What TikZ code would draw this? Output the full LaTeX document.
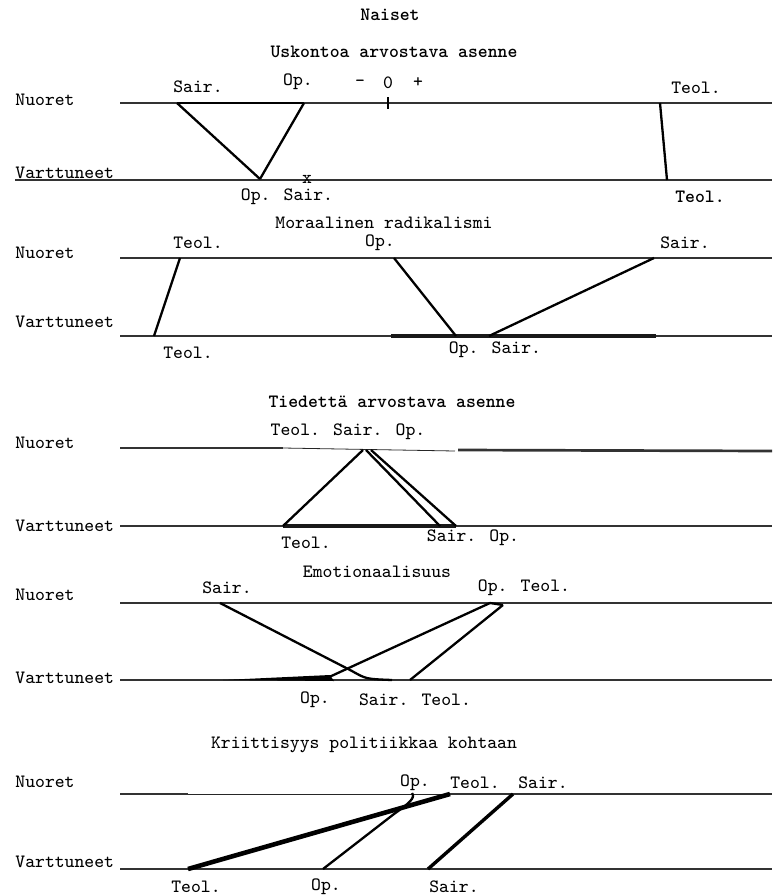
\documentclass[tikz,border=0pt]{standalone}
\begin{document}
\begin{tikzpicture}[x=0.5pt,y=-0.5pt,
  txt/.style={font=\ttfamily\fontsize{9.4}{11}\selectfont, inner sep=0pt},
  bt/.style={font=\ttfamily\bfseries\fontsize{9.4}{11}\selectfont, inner sep=0pt},
  axis/.style={line width=1.35pt, black!80},
  thinax/.style={line width=0.4pt, black!85},
  heavy/.style={line width=1.9pt, black!90},
  link/.style={line width=1.15pt, black},
  thicklink/.style={line width=2.3pt, black}]
\useasboundingbox (0,0) rectangle (772,895);

% ---------------- Panel 1 ----------------
\node[bt] (naiset) at (390,15) {Naiset};
\node[bt] (t1) at (394,52) {Uskontoa arvostava asenne};
\node[txt, anchor=west] (n1) at (15,100) {Nuoret};
\node[txt, anchor=west] (v1) at (15,173) {Varttuneet};
\coordinate (n1a) at (120,103); \coordinate (n1b) at (772,103);
\coordinate (v1a) at (15,180);  \coordinate (v1b) at (772,180);
\draw[axis] (n1a) -- (n1b);
\draw[axis] (v1a) -- (v1b);
\coordinate (tk1a) at (388,97); \coordinate (tk1b) at (388,109);
\draw[link] (tk1a) -- (tk1b);
\node[txt] (l1s) at (198,87) {Sair.};
\node[txt] (l1o) at (298,82) {Op.};
\node[txt] (l1m) at (360,83) {-};
\node[txt] (l1z) at (388,83) {0};
\node[txt] (l1p) at (418,83) {+};
\node[txt] (l1t) at (696,88) {Teol.};
\node[txt] (l1x) at (307,179) {x};
\node[txt] (l1b) at (287,197) {Op. Sair.};
\node[bt]  (l1bt) at (700,197) {Teol.};
\coordinate (s1t) at (177,103); \coordinate (o1t) at (304,103);
\coordinate (b1)  at (260,179);
\coordinate (t1t) at (660,103); \coordinate (t1b) at (667,180);
\draw[link] (s1t) -- (o1t);
\draw[link] (s1t) -- (b1);
\draw[link] (o1t) -- (b1);
\draw[link] (t1t) -- (t1b);

% ---------------- Panel 2 ----------------
\node[txt] (t2) at (384,223) {Moraalinen radikalismi};
\node[txt, anchor=west] (n2) at (15,253) {Nuoret};
\node[txt, anchor=west] (v2) at (15,322) {Varttuneet};
\coordinate (n2a) at (120,258); \coordinate (n2b) at (772,258);
\coordinate (v2a) at (120,336); \coordinate (v2b) at (772,336);
\coordinate (v2c) at (391,336); \coordinate (v2d) at (656,336);
\draw[axis] (n2a) -- (n2b);
\draw[axis] (v2a) -- (v2b);
\draw[heavy] (v2c) -- (v2d);
\node[txt] (l2t) at (198,243) {Teol.};
\node[txt] (l2o) at (380,243) {Op.};
\node[txt] (l2s) at (685,243) {Sair.};
\node[txt] (l2bt) at (188,353) {Teol.};
\node[txt] (l2bo) at (495,350) {Op. Sair.};
\coordinate (t2t) at (180,258); \coordinate (t2b) at (154,336);
\coordinate (o2t) at (394,258); \coordinate (o2b) at (456,336);
\coordinate (s2t) at (654,258); \coordinate (s2b) at (489,336);
\draw[link] (t2t) -- (t2b);
\draw[link] (o2t) -- (o2b);
\draw[link] (s2t) -- (s2b);

% ---------------- Panel 3 ----------------
\node[bt] (t3) at (392,402) {Tiedettä arvostava asenne};
\node[txt] (l3) at (348,432) {Teol. Sair. Op.};
\node[txt, anchor=west] (n3) at (15,443) {Nuoret};
\node[txt, anchor=west] (v3) at (15,526) {Varttuneet};
\coordinate (n3a) at (120,448); \coordinate (n3b) at (283,448);
\coordinate (n3c) at (455,451); \coordinate (n3d) at (458,450);
\coordinate (n3e) at (772,451);
\draw[axis] (n3a) -- (n3b);
\draw[thinax] (n3b) -- (n3c);
\draw[axis] (n3d) -- (n3e);
\coordinate (v3a) at (120,526); \coordinate (v3b) at (772,526);
\coordinate (v3c) at (283,526); \coordinate (v3d) at (456,526);
\draw[axis] (v3a) -- (v3b);
\draw[heavy] (v3c) -- (v3d);
\coordinate (a3t) at (363,450); \coordinate (a3s) at (366,450); \coordinate (a3o) at (371,450);
\coordinate (t3b) at (283,526); \coordinate (s3b) at (440,526); \coordinate (o3b) at (456,526);
\draw[link] (a3t) -- (t3b);
\draw[link] (a3s) -- (s3b);
\draw[link] (a3o) -- (o3b);
\node[txt] (l3bt) at (306,543) {Teol.};
\node[txt] (l3bs) at (473,538) {Sair. Op.};

% ---------------- Panel 4 ----------------
\node[txt] (t4) at (377,572) {Emotionaalisuus};
\node[txt] (l4s) at (227,588) {Sair.};
\node[txt] (l4o) at (524,588) {Op. Teol.};
\node[txt, anchor=west] (n4) at (15,595) {Nuoret};
\node[txt, anchor=west] (v4) at (15,678) {Varttuneet};
\coordinate (n4a) at (120,603); \coordinate (n4b) at (772,603);
\coordinate (v4a) at (120,680); \coordinate (v4b) at (772,680);
\draw[axis] (n4a) -- (n4b);
\draw[axis] (v4a) -- (v4b);
\coordinate (s4t) at (220,603); \coordinate (s4m) at (352,671);
\coordinate (s4c) at (366,679); \coordinate (s4b) at (392,680);
\coordinate (o4t) at (490,603); \coordinate (o4b) at (327,678);
\coordinate (t4t) at (503,605); \coordinate (t4b) at (410,680);
\coordinate (w4a) at (223,680); \coordinate (w4b) at (330,675); \coordinate (w4c) at (334,681);
\draw[link] (s4t) -- (s4m) .. controls (s4c) .. (s4b);
\draw[link] (o4t) -- (o4b);
\draw[link] (o4t) -- (t4t);
\draw[link] (t4t) -- (t4b);
\fill[black] (w4a) -- (w4b) -- (w4c) -- cycle;
\node[txt] (l4bo) at (315,700) {Op.};
\node[txt] (l4bs) at (415,700) {Sair. Teol.};

% ---------------- Panel 5 ----------------
\node[txt] (t5) at (364,745) {Kriittisyys politiikkaa kohtaan};
\node[txt] (l5o) at (415,783) {Op.};
\node[txt] (l5t) at (475,783) {Teol.};
\node[txt] (l5s) at (543,783) {Sair.};
\node[txt, anchor=west] (n5) at (15,782) {Nuoret};
\node[txt, anchor=west] (v5) at (15,862) {Varttuneet};
\coordinate (n5a) at (120,794); \coordinate (n5b) at (188,794);
\coordinate (n5c) at (450,794); \coordinate (n5d) at (772,794);
\draw[axis] (n5a) -- (n5b);
\draw[thinax] (n5b) -- (n5c);
\draw[axis] (n5c) -- (n5d);
\coordinate (v5a) at (120,869); \coordinate (v5b) at (772,869);
\draw[axis] (v5a) -- (v5b);
\coordinate (t5t) at (450,794); \coordinate (t5b) at (188,869);
\coordinate (o5t) at (412,793); \coordinate (o5m) at (394,814);
\coordinate (o5c1) at (408,804); \coordinate (o5c2) at (416,798);
\coordinate (o5b) at (323,869);
\coordinate (s5t) at (513,794); \coordinate (s5b) at (428,869);
\draw[thicklink] (t5b) -- (t5t);
\draw[link] (o5b) -- (o5m) .. controls (o5c1) and (o5c2) .. (o5t);
\draw[line width=1.7pt] (s5b) -- (s5t);
\node[txt] (l5bt) at (196,887) {Teol.};
\node[txt] (l5bo) at (326,887) {Op.};
\node[txt] (l5bs) at (454,887) {Sair.};
\end{tikzpicture}
\end{document}
